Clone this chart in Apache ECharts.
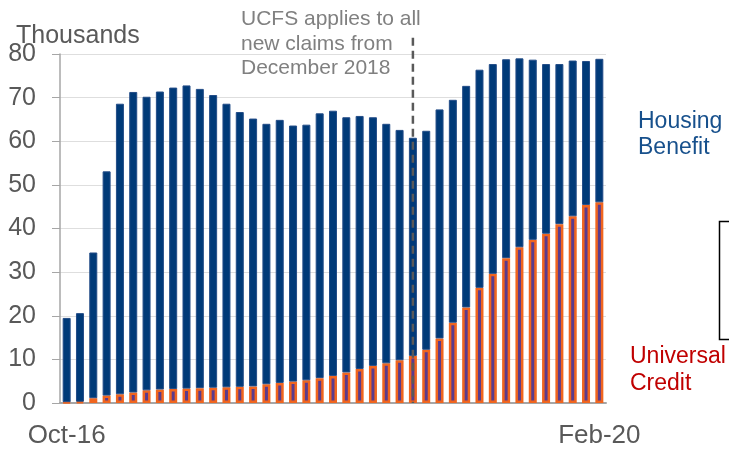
<!DOCTYPE html>
<html>
<head>
<meta charset="utf-8">
<script src="https://cdn.jsdelivr.net/npm/echarts@6/dist/echarts.min.js"></script>
<style>
html, body { margin: 0; padding: 0; background: #fff; }
#chart { width: 729px; height: 449px; }
</style>
</head>
<body>
<div id="chart"></div>
<script>
// months, Oct-16 .. Feb-20
var months = ['Oct-16','Nov-16','Dec-16',
  'Jan-17','Feb-17','Mar-17','Apr-17','May-17','Jun-17','Jul-17','Aug-17','Sep-17','Oct-17','Nov-17','Dec-17',
  'Jan-18','Feb-18','Mar-18','Apr-18','May-18','Jun-18','Jul-18','Aug-18','Sep-18','Oct-18','Nov-18','Dec-18',
  'Jan-19','Feb-19','Mar-19','Apr-19','May-19','Jun-19','Jul-19','Aug-19','Sep-19','Oct-19','Nov-19','Dec-19',
  'Jan-20','Feb-20'];
// Universal Credit, thousands
var ucData = [0.2, 0.3, 1.1, 1.7, 2.0, 2.4, 2.9, 3.1, 3.2, 3.3, 3.4, 3.5, 3.6, 3.7, 3.8,
  4.3, 4.6, 4.9, 5.2, 5.7, 6.2, 7.0, 7.8, 8.5, 9.1, 9.8, 10.8,
  12.2, 14.8, 18.4, 21.9, 26.4, 29.6, 33.2, 35.7, 37.4, 38.8, 41.0, 42.8, 45.4, 46.0];
// Housing Benefit, thousands
var hbData = [19.3, 20.3, 33.4, 51.4, 66.6, 68.9, 67.3, 68.3, 69.1, 69.5, 68.6, 67.1, 65.0, 63.0, 61.4,
  59.7, 60.3, 58.7, 58.6, 60.7, 60.8, 58.5, 58.0, 57.0, 54.9, 52.8, 50.0,
  50.2, 52.5, 51.1, 50.8, 50.0, 48.1, 45.6, 43.3, 41.3, 38.9, 36.7, 35.7, 33.0, 32.9];
var yTicks = [0, 10, 20, 30, 40, 50, 60, 70, 80];
var ucfsMonth = 'Dec-18';

var fontFam = '"Liberation Sans", Arial, sans-serif';
var chart = echarts.init(document.getElementById('chart'));

var option = {
  animation: false,
  textStyle: { fontFamily: fontFam },
  title: {
    text: 'Thousands',
    left: 11, top: 19,
    textStyle: { color: '#595959', fontSize: 25, fontWeight: 'normal', fontFamily: fontFam }
  },
  grid: { left: 60, right: 123, top: 54, bottom: 45 },
  xAxis: {
    type: 'category',
    data: months,
    axisLine: { lineStyle: { color: '#a6a6a6', width: 2 } },
    axisTick: {
      length: 8,
      interval: function (i) { return i === 0 || i === months.length - 1; },
      lineStyle: { color: '#a6a6a6', width: 2 }
    },
    axisLabel: {
      interval: function (i) { return i === 0 || i === months.length - 1; },
      color: '#595959', fontSize: 26, margin: 20, fontFamily: fontFam
    }
  },
  yAxis: {
    type: 'value',
    min: yTicks[0], max: yTicks[yTicks.length - 1], interval: 10,
    axisLine: { show: true, lineStyle: { color: '#a6a6a6', width: 1.5 } },
    axisTick: { show: true, length: 8, lineStyle: { color: '#a6a6a6' } },
    splitLine: { lineStyle: { color: '#dedede' } },
    axisLabel: { color: '#595959', fontSize: 25, margin: 24, fontFamily: fontFam }
  },
  series: [
    {
      name: 'Universal Credit',
      type: 'bar',
      stack: 'total',
      barWidth: 8,
      data: ucData,
      itemStyle: { color: '#5b3b8c', borderColor: '#f0651f', borderWidth: 2.5 }
    },
    {
      name: 'Housing Benefit',
      type: 'bar',
      stack: 'total',
      barWidth: 8,
      data: hbData,
      itemStyle: { color: '#003a78', borderColor: '#234d88', borderWidth: 1 }
    }
  ]
};
chart.setOption(option);

// dashed UCFS line, through the library's scales, poking above the plot
var idx = months.indexOf(ucfsMonth);
var pTop = chart.convertToPixel({ xAxisIndex: 0, yAxisIndex: 0 }, [idx, 83.7]);
var pBot = chart.convertToPixel({ xAxisIndex: 0, yAxisIndex: 0 }, [idx, 0]);

chart.setOption({
  graphic: [
    {
      type: 'line', z: 100,
      shape: { x1: pTop[0], y1: pTop[1], x2: pBot[0], y2: pBot[1] },
      style: { stroke: '#595959', lineWidth: 2.5, lineDash: [8, 5] }
    },
    {
      type: 'text', left: 241, top: 7, z: 100,
      style: {
        text: 'UCFS applies to all\nnew claims from\nDecember 2018',
        fill: '#808080', fontSize: 21, lineHeight: 24.5, fontFamily: fontFam
      }
    },
    {
      type: 'text', left: 638, top: 109, z: 100,
      style: { text: 'Housing\nBenefit', fill: '#17508c', fontSize: 23, lineHeight: 26, fontFamily: fontFam }
    },
    {
      type: 'text', left: 630, top: 343, z: 100,
      style: { text: 'Universal\nCredit', fill: '#c00000', fontSize: 23, lineHeight: 27, fontFamily: fontFam }
    },
    {
      type: 'rect', left: 717, top: 219, z: 100,
      shape: { width: 30, height: 118 },
      style: { fill: 'none', stroke: '#000', lineWidth: 1.5 }
    }
  ]
});
</script>
</body>
</html>
